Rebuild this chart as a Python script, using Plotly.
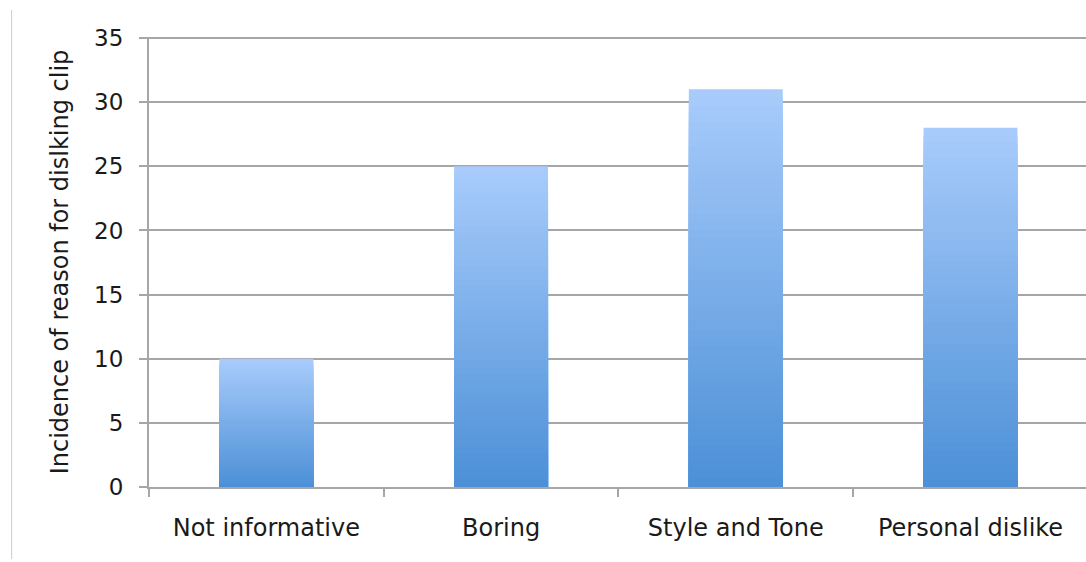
import plotly.graph_objects as go

categories = ["Not informative", "Boring", "Style and Tone", "Personal dislike"]
values = [10, 25, 31, 28]
y_ticks = [0, 5, 10, 15, 20, 25, 30, 35]
y_title = "Incidence of reason for dislking clip"

top_rgb = (168, 203, 251)
bottom_rgb = (74, 143, 214)
n_layers = 48

fig = go.Figure()
for k in range(n_layers, 0, -1):
    f = k / n_layers
    c = tuple(round(bottom_rgb[i] + (top_rgb[i] - bottom_rgb[i]) * f) for i in range(3))
    fig.add_trace(go.Bar(
        x=categories,
        y=[v * f for v in values],
        width=0.4,
        marker=dict(color="rgb(%d,%d,%d)" % c, line=dict(width=0)),
        showlegend=False,
        hoverinfo="skip",
    ))

fam = "DejaVu Sans, Verdana, sans-serif"
txt = "#1a1a1a"

fig.update_layout(
    width=1086, height=562,
    margin=dict(l=149, r=0, t=37, b=75),
    paper_bgcolor="white", plot_bgcolor="white",
    barmode="overlay",
    font=dict(family=fam, size=24, color=txt),
    xaxis=dict(
        type="category", range=[-0.5, 3.492],
        showgrid=False, showline=True, linecolor="#a6a6a6", linewidth=2,
        ticks="outside", tickson="boundaries", ticklen=8, tickwidth=2, tickcolor="#a6a6a6",
        ticklabelstandoff=18, tickfont=dict(family=fam, size=24, color=txt),
    ),
    yaxis=dict(
        range=[0, 35.08], tickvals=y_ticks,
        showgrid=True, gridcolor="#a6a6a6", gridwidth=2,
        showline=True, linecolor="#a6a6a6", linewidth=2,
        ticks="outside", ticklen=8, tickwidth=2, tickcolor="#a6a6a6",
        ticklabelstandoff=11, tickfont=dict(family=fam, size=23, color=txt),
        zeroline=False,
        title=dict(text=y_title, font=dict(family=fam, size=24, color=txt), standoff=19),
    ),
    shapes=[dict(type="line", xref="paper", yref="paper", x0=-0.1466, x1=-0.1466,
                 y0=-0.16, y1=1.06, line=dict(color="#cccccc", width=1))],
)

fig.write_html("out.html")
